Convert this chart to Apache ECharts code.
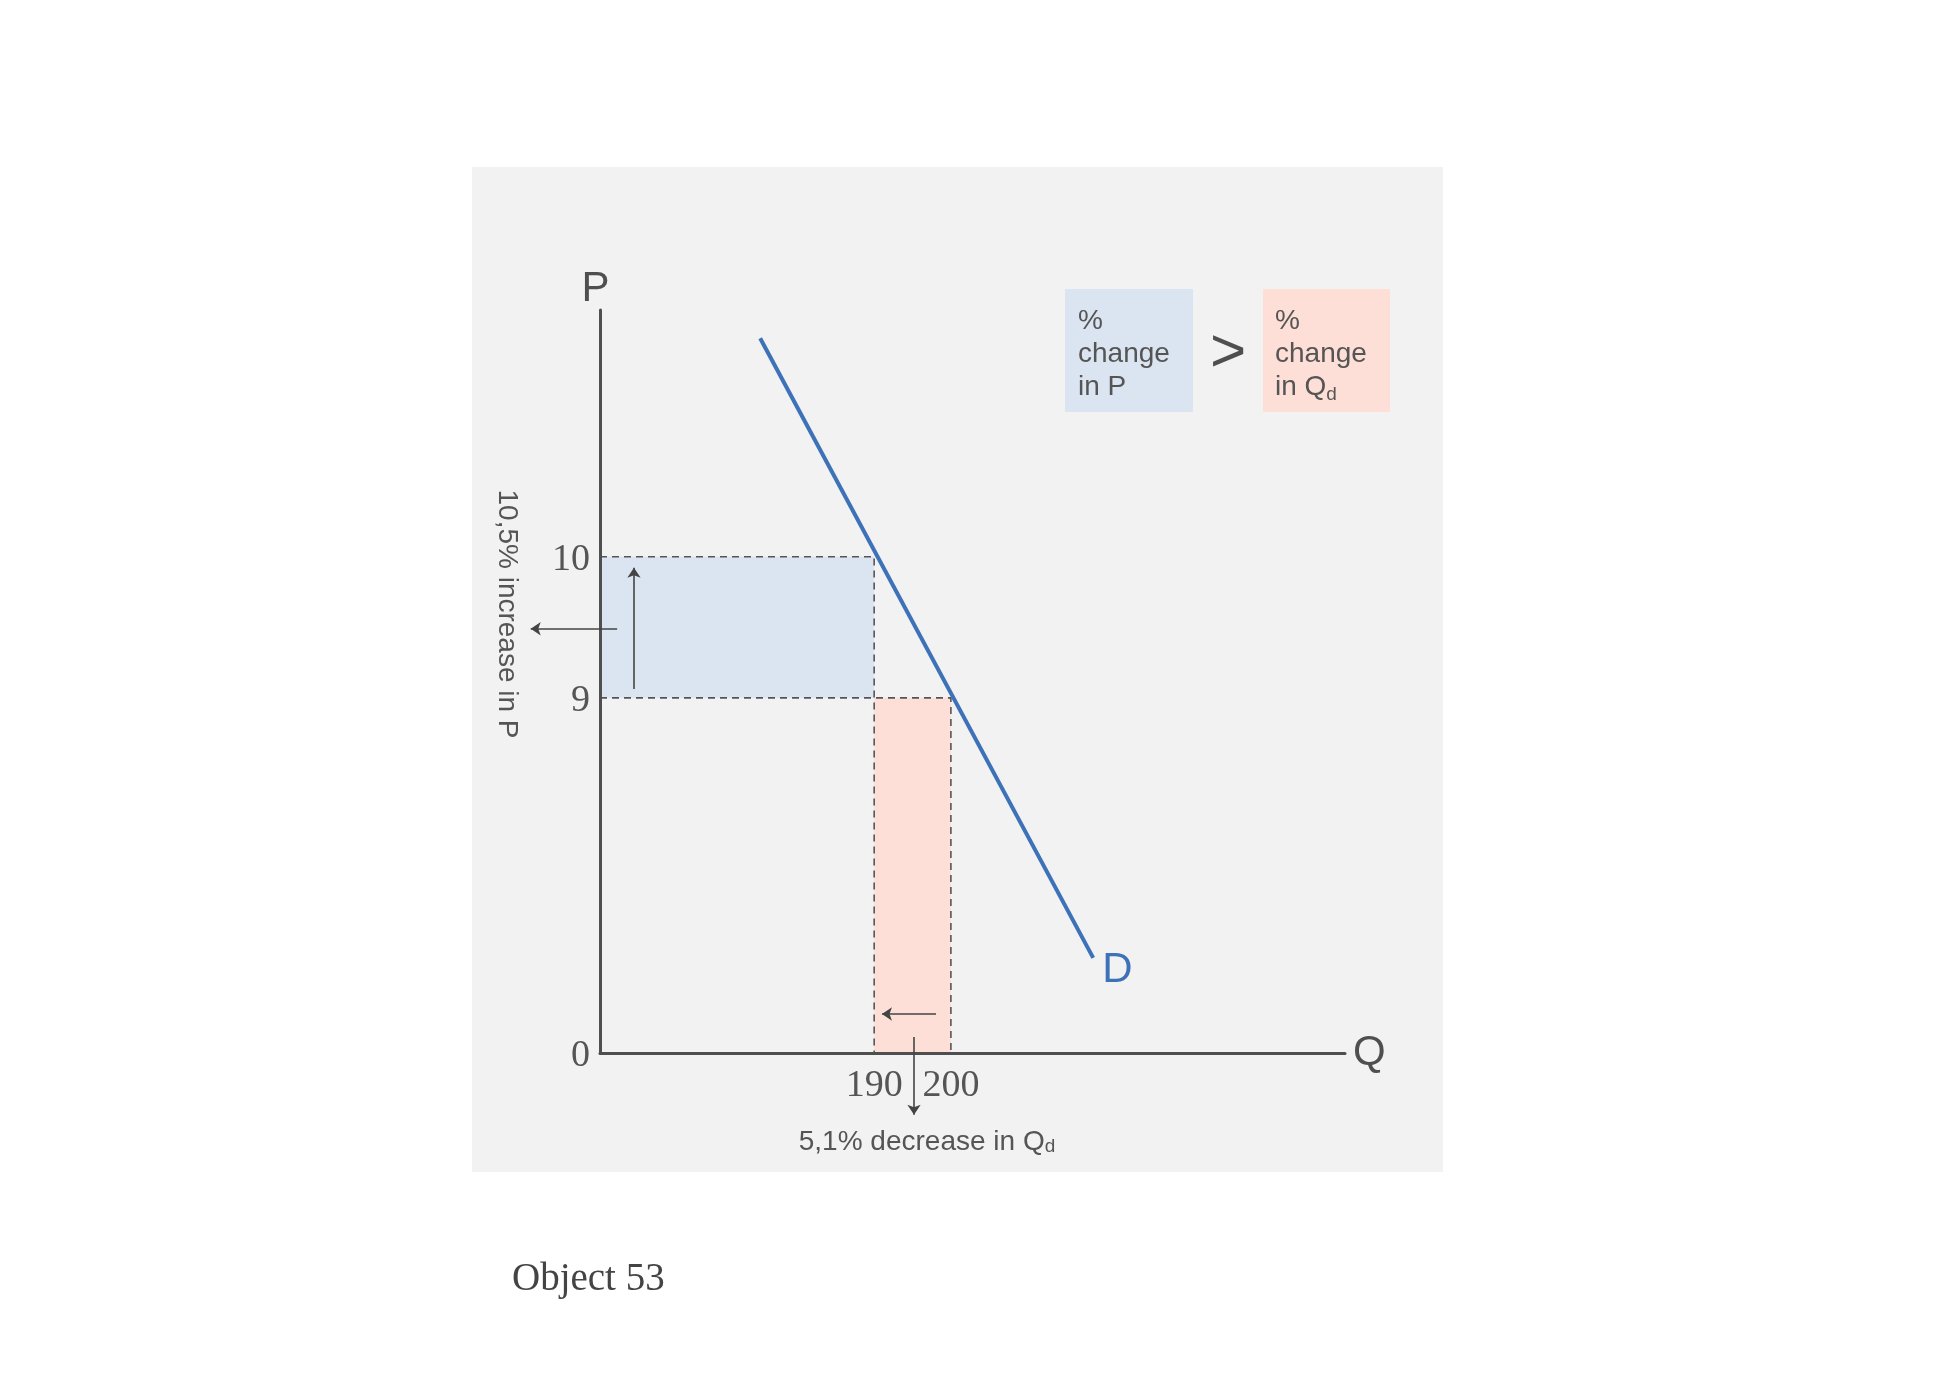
<!DOCTYPE html>
<html>
<head>
<meta charset="utf-8">
<script src="https://cdn.jsdelivr.net/npm/echarts@6/dist/echarts.min.js"></script>
<style>html,body{margin:0;padding:0;background:#fff}#c{width:1942px;height:1373px}</style>
</head>
<body>
<div id="c"></div>
<script>
// Schematic diagram: axes run 0..100 in diagram units; labels map to positions.
const priceTicks = ['0', '9', '10'];
const pricePos = [0, 47.8, 66.8];
const qtyTicks = ['190', '200'];
const qtyPos = [36.8, 47.1];
const demandX = [21.5, 66.2];
const demandY = [96.2, 12.8];
// arrows: [x1, y1, x2, y2] (tip at x2,y2)
const arrows = [
  [4.56, 49.0, 4.56, 65.3],
  [2.3, 57.1, -9.3, 57.1],
  [45.1, 5.25, 37.85, 5.25],
  [42.15, 2.15, 42.15, -8.3]
];

const p9 = pricePos[1], p10 = pricePos[2], q190 = qtyPos[0], q200 = qtyPos[1];
const gray = '#4f4f4f';
const sans = 'Liberation Sans, Arial, sans-serif';
const serif = 'Liberation Serif, Times New Roman, serif';

function lookup(pos, labels, v) {
  for (let i = 0; i < pos.length; i++) if (Math.abs(pos[i] - v) < 1e-6) return labels[i];
  return '';
}

const subStyle = { fontSize: 19, fontFamily: sans, fill: '#555', verticalAlign: 'bottom', lineHeight: 12 };

const chart = echarts.init(document.getElementById('c'));
chart.setOption({
  backgroundColor: '#ffffff',
  animation: false,
  grid: { left: 600, top: 310, width: 745, height: 743 },
  xAxis: {
    type: 'value', min: 0, max: 100, z: 5,
    name: 'Q', nameLocation: 'end', nameGap: 8,
    nameTextStyle: { fontFamily: sans, fontSize: 42, color: gray, verticalAlign: 'middle', padding: [6, 0, 0, 0] },
    axisLine: { show: true, onZero: false, lineStyle: { color: gray, width: 3 } },
    axisTick: { show: false },
    splitLine: { show: false },
    axisLabel: {
      customValues: qtyPos, margin: 14,
      fontFamily: serif, fontSize: 38, color: '#555',
      formatter: v => lookup(qtyPos, qtyTicks, v)
    }
  },
  yAxis: {
    type: 'value', min: 0, max: 100, z: 5,
    name: 'P', nameLocation: 'end', nameGap: 0,
    nameTextStyle: { fontFamily: sans, fontSize: 42, color: gray, padding: [0, 9, 0, 0] },
    axisLine: { show: true, onZero: false, lineStyle: { color: gray, width: 3 } },
    axisTick: { show: false },
    splitLine: { show: false },
    axisLabel: {
      customValues: pricePos, margin: 10,
      fontFamily: serif, fontSize: 38, color: '#555',
      formatter: v => '{t|' + lookup(pricePos, priceTicks, v) + '}',
      rich: { t: { fontFamily: serif, fontSize: 38, color: '#555', padding: [7, 0, 0, 0] } }
    }
  },
  graphic: [
    { type: 'rect', z: -10, shape: { x: 472, y: 167, width: 971, height: 1005 }, style: { fill: '#f2f2f2' } },
    { type: 'rect', shape: { x: 1065, y: 289, width: 128, height: 123 }, style: { fill: '#dae5f1' } },
    { type: 'rect', shape: { x: 1263, y: 289, width: 127, height: 123 }, style: { fill: '#fddfd7' } },
    { type: 'text', x: 1078, y: 305, style: { text: '%\nchange\nin P', font: '28px ' + sans, fill: '#555', lineHeight: 33, textVerticalAlign: 'top' } },
    { type: 'text', x: 1275, y: 305, style: { text: '%\nchange\nin Q{sub|d}', font: '28px ' + sans, fill: '#555', lineHeight: 33, textVerticalAlign: 'top',
        rich: { sub: subStyle } } },
    { type: 'text', x: 1228, y: 354, style: { text: '>', font: '62px ' + sans, fill: gray, textAlign: 'center', textVerticalAlign: 'middle' } },
    { type: 'text', x: 507, y: 614, rotation: -Math.PI / 2, style: { text: '10,5% increase in P', font: '28px ' + sans, fill: '#555', textAlign: 'center', textVerticalAlign: 'middle' } },
    { type: 'text', x: 927, y: 1142, style: { text: '5,1% decrease in Q{sub|d}', font: '28px ' + sans, fill: '#555', textAlign: 'center', textVerticalAlign: 'middle',
        rich: { sub: subStyle } } },
    { type: 'text', x: 512, y: 1280, style: { text: 'Object 53', font: '39px ' + serif, fill: '#444', textVerticalAlign: 'middle' } }
  ],
  series: [
    {
      type: 'line', data: [], z: 1, silent: true,
      markArea: {
        silent: true,
        data: [
          [{ coord: [0, p9], itemStyle: { color: '#dae5f1' } }, { coord: [q190, p10] }],
          [{ coord: [q190, 0], itemStyle: { color: '#fddfd7' } }, { coord: [q200, p9] }]
        ]
      }
    },
    {
      type: 'line', z: 3, symbol: 'none', silent: true,
      data: [[0, p10], [q190, p10], [q190, 0]],
      lineStyle: { color: '#555', width: 1.6, type: [7, 5] }
    },
    {
      type: 'line', z: 3, symbol: 'none', silent: true,
      data: [[0, p9], [q200, p9], [q200, 0]],
      lineStyle: { color: '#555', width: 1.6, type: [7, 5] }
    },
    {
      type: 'line', z: 4, symbol: 'none', silent: true,
      data: demandX.map((x, i) => [x, demandY[i]]),
      lineStyle: { color: '#3d72b8', width: 4 },
      endLabel: { show: true, formatter: 'D', fontFamily: sans, fontSize: 42, color: '#3d72b8', distance: 0, offset: [9, 13] }
    },
    {
      type: 'lines', coordinateSystem: 'cartesian2d', z: 6, clip: false, silent: true,
      symbol: ['none', 'arrow'], symbolSize: [8, 10],
      lineStyle: { color: '#444', width: 1.6, opacity: 1 },
      data: arrows.map(a => ({ coords: [[a[0], a[1]], [a[2], a[3]]] }))
    }
  ]
});
</script>
</body>
</html>
